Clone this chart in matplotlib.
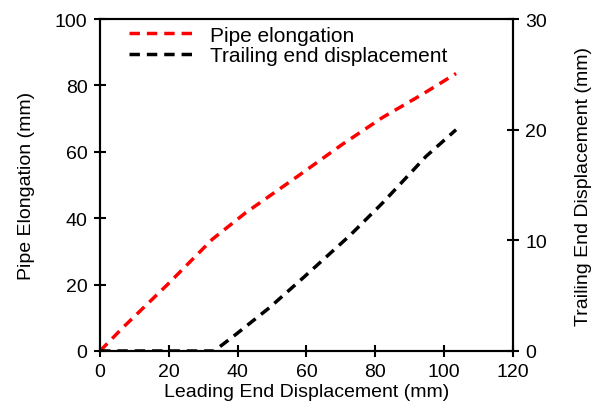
import matplotlib
matplotlib.use("Agg")
import matplotlib.pyplot as plt

plt.rcParams['font.family'] = ['Liberation Sans', 'DejaVu Sans']

# pipe elongation (left axis)
lead_disp_red = [0, 6.6, 19.7, 32.7, 42.4, 57, 70.5, 82.2, 93.8, 103.5]
elongation = [0, 7.0, 20.1, 33.7, 41.7, 52.3, 62.3, 70.4, 77.4, 83.6]

# trailing end displacement (right axis)
lead_disp_blk = [0, 10, 20, 33.2, 39.5, 49.2, 59, 72.5, 82.2, 94.8, 103.5]
trailing = [0, 0, 0, 0, 1.5, 3.9, 6.6, 10.4, 13.4, 17.6, 20.0]

fig = plt.figure(figsize=(5.97, 4.10), dpi=100)
ax = fig.add_axes([0.1675, 0.1415, 0.6915, 0.8095])
ax2 = ax.twinx()

l1, = ax.plot(lead_disp_red, elongation, color='red', ls=(0, (3, 2)), lw=2.5,
              label='Pipe elongation')
l2, = ax2.plot(lead_disp_blk, trailing, color='black', ls=(0, (3, 2)), lw=2.5,
               label='Trailing end displacement')

ax.set_xlim(0, 120)
ax.set_ylim(0, 100)
ax2.set_ylim(0, 30)
ax.set_xticks(range(0, 121, 20))
ax.set_yticks(range(0, 101, 20))
ax2.set_yticks([0, 10, 20, 30])

for a in (ax, ax2):
    a.tick_params(direction='inout', length=8, width=1.5, labelsize=14, pad=5)
    for s in a.spines.values():
        s.set_linewidth(1.5)

ax.set_xlabel('Leading End Displacement (mm)', fontsize=14, labelpad=2)
ax.set_ylabel('Pipe Elongation (mm)', fontsize=14, labelpad=14)
ax2.set_ylabel('Trailing End Displacement (mm)', fontsize=14, labelpad=20)

ax.legend(handles=[l1, l2], loc='upper left', frameon=False, fontsize=15,
          handlelength=3.3, borderaxespad=0.0, bbox_to_anchor=(0.05, 1.005),
          labelspacing=0.05, handletextpad=0.6)

fig.savefig('out.png', dpi=100)
